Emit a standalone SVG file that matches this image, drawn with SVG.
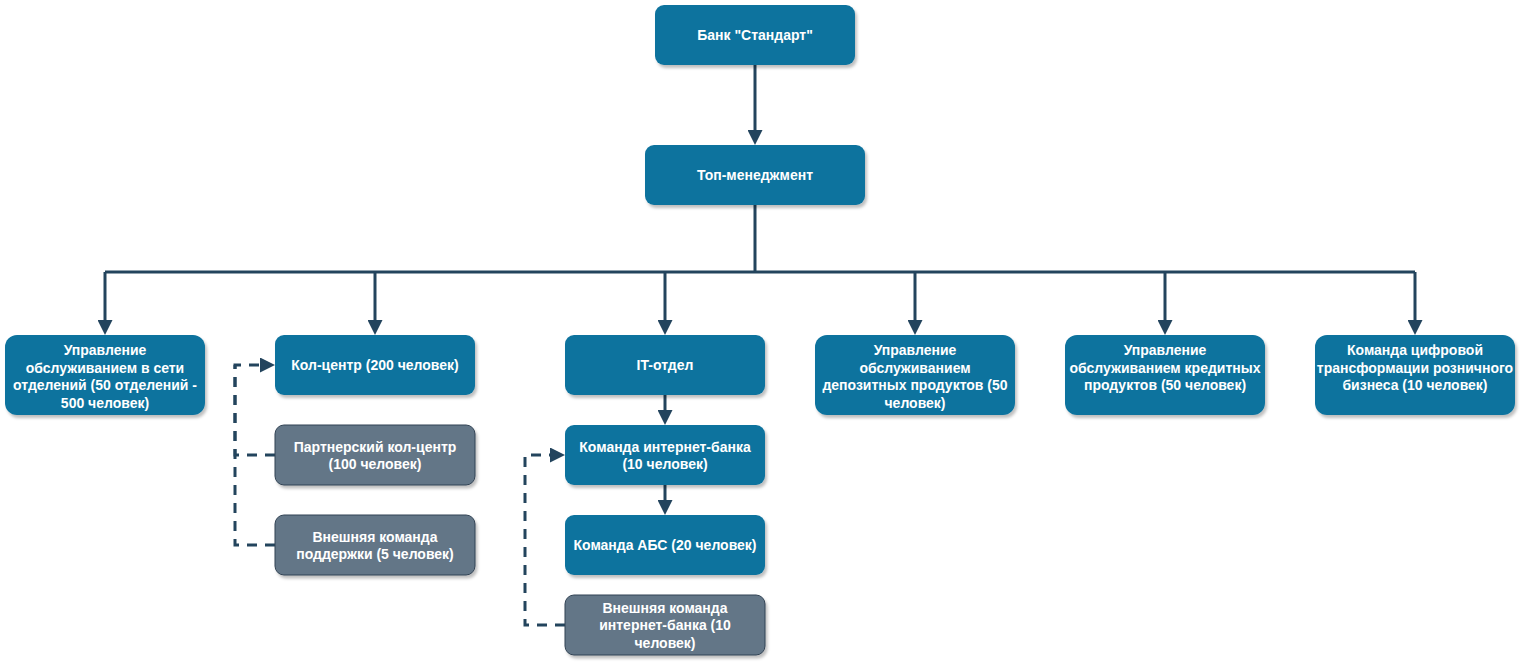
<svg xmlns="http://www.w3.org/2000/svg" width="1520" height="662" viewBox="0 0 1520 662">
<defs>
<filter id="sh" x="-10%" y="-10%" width="130%" height="140%">
<feDropShadow dx="2" dy="3" stdDeviation="1.5" flood-color="#000" flood-opacity="0.25"/>
</filter>
<marker id="ar" markerUnits="userSpaceOnUse" markerWidth="15" markerHeight="15" refX="0" refY="7.5" orient="auto" viewBox="0 0 15 15">
<path d="M0,0 L15,7.5 L0,15 Z" fill="#23445D"/>
</marker>
</defs>
<style>
.b{fill:#10739E;filter:url(#sh)}
.g{fill:#647687;stroke:#314354;stroke-width:1;filter:url(#sh)}
text{font-family:"Liberation Sans",Arial,sans-serif;font-size:14px;font-weight:bold;fill:#FFFFFF;text-anchor:middle}
.c{fill:none;stroke:#23445D;stroke-width:3}
.d{fill:none;stroke:#23445D;stroke-width:3;stroke-dasharray:10 8}
.a{marker-end:url(#ar)}
</style>
<g id="connectors">
<path class="c a" d="M755,65 V130"/>
<path class="c" d="M755,205 V272 M105,272 H1415"/>
<path class="c a" d="M105,272 V320"/>
<path class="c a" d="M375,272 V320"/>
<path class="c a" d="M665,272 V320"/>
<path class="c a" d="M915,272 V320"/>
<path class="c a" d="M1165,272 V320"/>
<path class="c a" d="M1415,272 V320"/>
<path class="c a" d="M665,395 V410"/>
<path class="c a" d="M665,485 V500"/>
<path class="d a" d="M275,455 H235 V365 H260"/>
<path class="d" d="M275,545 H235 V365"/>
<path class="d a" d="M565,625 H525 V455 H550"/>
</g>
<g id="bank"><rect class="b" x="655" y="5" width="200" height="60" rx="9"/><text x="755" y="40">Банк "Стандарт"</text></g>
<g id="top"><rect class="b" x="645" y="145" width="220" height="60" rx="9"/><text x="755" y="180">Топ-менеджмент</text></g>
<g id="branches"><rect class="b" x="5" y="335" width="200" height="80" rx="12"/>
<text x="105" y="355">Управление</text><text x="105" y="372.5">обслуживанием в сети</text><text x="105" y="390">отделений (50 отделений -</text><text x="105" y="407.5">500 человек)</text></g>
<g id="callcenter"><rect class="b" x="275" y="335" width="200" height="60" rx="9"/><text x="375" y="370">Кол-центр (200 человек)</text></g>
<g id="it"><rect class="b" x="565" y="335" width="200" height="60" rx="9"/><text x="665" y="370">IT-отдел</text></g>
<g id="deposits"><rect class="b" x="815" y="335" width="200" height="80" rx="12"/>
<text x="915" y="355">Управление</text><text x="915" y="372.5">обслуживанием</text><text x="915" y="390">депозитных продуктов (50</text><text x="915" y="407.5">человек)</text></g>
<g id="credit"><rect class="b" x="1065" y="335" width="200" height="80" rx="12"/>
<text x="1165" y="355">Управление</text><text x="1165" y="372.5">обслуживанием кредитных</text><text x="1165" y="390">продуктов (50 человек)</text></g>
<g id="digital"><rect class="b" x="1315" y="335" width="200" height="80" rx="12"/>
<text x="1415" y="355">Команда цифровой</text><text x="1415" y="372.5">трансформации розничного</text><text x="1415" y="390">бизнеса (10 человек)</text></g>
<g id="partner"><rect class="g" x="275" y="425" width="200" height="60" rx="9"/>
<text x="375" y="451.5">Партнерский кол-центр</text><text x="375" y="469">(100 человек)</text></g>
<g id="support"><rect class="g" x="275" y="515" width="200" height="60" rx="9"/>
<text x="375" y="541.5">Внешняя команда</text><text x="375" y="559">поддержки (5 человек)</text></g>
<g id="internetbank"><rect class="b" x="565" y="425" width="200" height="60" rx="9"/>
<text x="665" y="451.5">Команда интернет-банка</text><text x="665" y="469">(10 человек)</text></g>
<g id="abs"><rect class="b" x="565" y="515" width="200" height="60" rx="9"/><text x="665" y="550">Команда АБС (20 человек)</text></g>
<g id="extinternet"><rect class="g" x="565" y="595" width="200" height="60" rx="9"/>
<text x="665" y="612.5">Внешняя команда</text><text x="665" y="630">интернет-банка (10</text><text x="665" y="647.5">человек)</text></g>
</svg>
